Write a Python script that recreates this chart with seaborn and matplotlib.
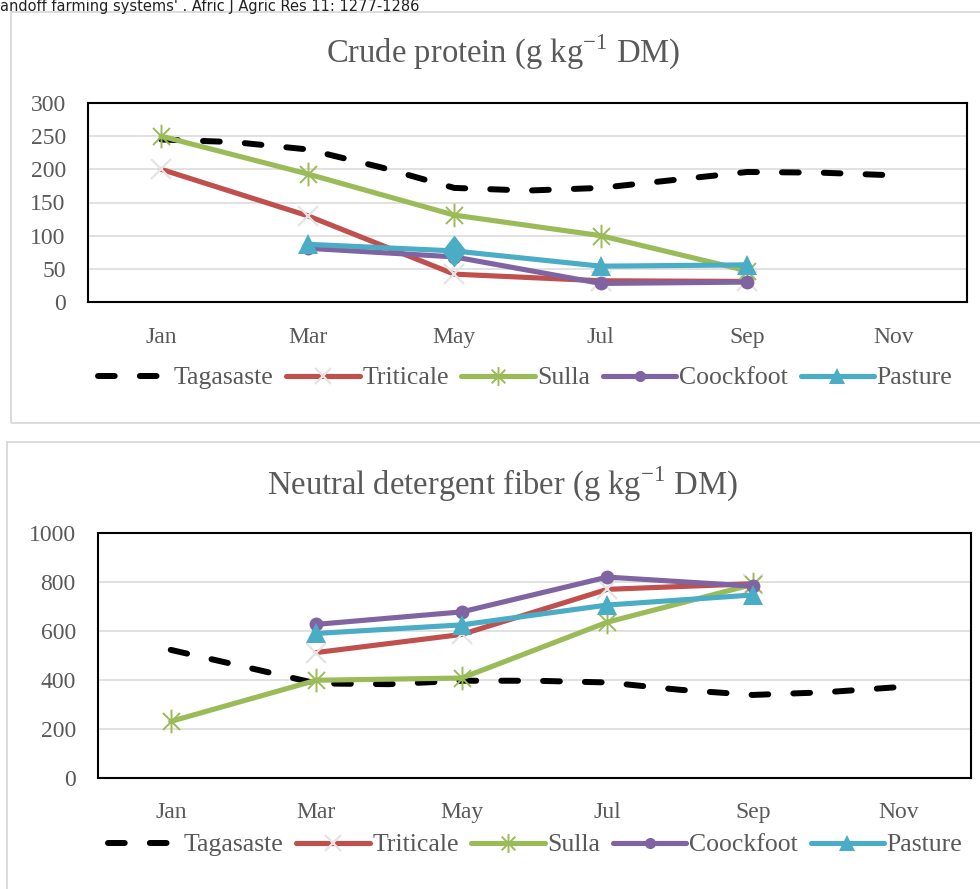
import matplotlib
matplotlib.use("Agg")
import matplotlib.pyplot as plt
from matplotlib.patches import Rectangle
from matplotlib.path import Path
import seaborn as sns

# ---- data -------------------------------------------------------------
months = ["Jan", "Feb", "Mar", "Apr", "May", "Jun", "Jul", "Aug", "Sep", "Oct", "Nov"]
tick_months = ["Jan", "Mar", "May", "Jul", "Sep", "Nov"]
series_names = ["Tagasaste", "Triticale", "Sulla", "Coockfoot", "Pasture"]

# Crude protein (g/kg DM)
cp_tagasaste = [245, 241, 230, 203, 172, 168, 172, 184, 196, 195, 191]
cp_triticale_months = ["Jan", "Mar", "May", "Jul", "Sep"]
cp_triticale = [200, 130, 42, 32, 31]
cp_sulla_months = ["Jan", "Mar", "May", "Jul", "Sep"]
cp_sulla = [250, 193, 131, 100, 47]
cp_coockfoot_months = ["Mar", "May", "Jul", "Sep"]
cp_coockfoot = [81, 68, 28, 30]
cp_pasture_months = ["Mar", "May", "Jul", "Sep"]
cp_pasture = [87, 77, 54, 56]

# Neutral detergent fiber (g/kg DM)
ndf_tagasaste = [523, 455, 386, 383, 397, 397, 390, 360, 339, 350, 371]
ndf_triticale_months = ["Mar", "May", "Jul", "Sep"]
ndf_triticale = [512, 586, 770, 793]
ndf_sulla_months = ["Jan", "Mar", "May", "Jul", "Sep"]
ndf_sulla = [231, 399, 408, 636, 790]
ndf_coockfoot_months = ["Mar", "May", "Jul", "Sep"]
ndf_coockfoot = [627, 678, 820, 783]
ndf_pasture_months = ["Mar", "May", "Jul", "Sep"]
ndf_pasture = [590, 625, 706, 747]

# ---- style ------------------------------------------------------------
sns.set_theme(style="white")
plt.rcParams["font.family"] = ["Liberation Serif", "DejaVu Serif"]

TEXT = "#595959"
GRID = "#d9d9d9"
colors = {
    "Tagasaste": "black",
    "Triticale": "#c0504d",
    "Sulla": "#9bbb59",
    "Coockfoot": "#8064a2",
    "Pasture": "#4bacc6",
}

star = Path(
    [(0, -1), (0, 1), (-0.72, -0.72), (0.72, 0.72), (-0.72, 0.72), (0.72, -0.72)],
    [Path.MOVETO, Path.LINETO, Path.MOVETO, Path.LINETO, Path.MOVETO, Path.LINETO],
)
diamond = Path(
    [(0, 1), (0.77, 0), (0, -1), (-0.77, 0), (0, 1)],
    [Path.MOVETO, Path.LINETO, Path.LINETO, Path.LINETO, Path.CLOSEPOLY],
)

LW = 3.7
LEG_KW = dict(ncol=5, loc="center", frameon=False, fontsize=18.5, labelcolor=TEXT,
              handlelength=2.85, handletextpad=0.1, columnspacing=0.5,
              borderpad=0, markerscale=0.8)


def idx(names):
    return [months.index(m) for m in names]


def draw_panel(ax, tag, tri, tri_m, sul, sul_m, coc, coc_m, pas, pas_m):
    sns.lineplot(x=list(range(len(months))), y=tag, ax=ax, color=colors["Tagasaste"],
                 lw=4.3, linestyle=(0, (2.8, 4.2)), dash_capstyle="round",
                 label="Tagasaste")
    sns.lineplot(x=idx(tri_m), y=tri, ax=ax, color=colors["Triticale"], lw=LW,
                 solid_capstyle="round", solid_joinstyle="round",
                 marker="x", ms=14, mew=1.6, mec="#e4e4e4", label="Triticale")
    sns.lineplot(x=idx(sul_m), y=sul, ax=ax, color=colors["Sulla"], lw=LW,
                 solid_capstyle="round", solid_joinstyle="round",
                 marker=star, ms=17, mew=1.4, mec=colors["Sulla"], mfc="none",
                 label="Sulla")
    sns.lineplot(x=idx(coc_m), y=coc, ax=ax, color=colors["Coockfoot"], lw=LW,
                 solid_capstyle="round", solid_joinstyle="round",
                 marker="o", ms=10, mew=0, mec=colors["Coockfoot"],
                 label="Coockfoot")
    sns.lineplot(x=idx(pas_m), y=pas, ax=ax, color=colors["Pasture"], lw=LW,
                 solid_capstyle="round", solid_joinstyle="round",
                 marker="^", ms=15, mew=0, mec=colors["Pasture"],
                 label="Pasture")
    ax.set_xlim(-1, 11)
    ax.set_xticks(idx(tick_months))
    ax.set_xticklabels(tick_months)
    ax.set_xlabel("")
    ax.set_ylabel("")
    ax.grid(axis="y", color=GRID, lw=1.1)
    ax.grid(axis="x", visible=False)
    ax.set_axisbelow(True)
    for sp in ax.spines.values():
        sp.set_visible(True)
        sp.set_color("black")
        sp.set_linewidth(1.5)
    ax.tick_params(length=0, labelsize=17, labelcolor=TEXT)


fig = plt.figure(figsize=(9.8, 8.89), dpi=100)
W, H = 980.0, 889.0


def fx(px):
    return px / W


def fy(py):
    return 1 - py / H


# chart frames
fig.add_artist(Rectangle((fx(11), fy(423)), fx(990 - 11), (423 - 12) / H,
                         transform=fig.transFigure, fill=False, ec=GRID, lw=1.3))
fig.add_artist(Rectangle((fx(7), fy(900)), fx(990 - 7), (900 - 442) / H,
                         transform=fig.transFigure, fill=False, ec=GRID, lw=1.3))

fig.text(0, fy(10.5), "andoff farming systems' . Afric J Agric Res 11: 1277-1286",
         family="DejaVu Sans", fontsize=10.5, color="#222222", va="baseline", ha="left")

# ---- crude protein -----------------------------------------------------
ax1 = fig.add_axes([fx(88), fy(302), fx(967 - 88), (302 - 103) / H])
draw_panel(ax1, cp_tagasaste, cp_triticale, cp_triticale_months, cp_sulla,
           cp_sulla_months, cp_coockfoot, cp_coockfoot_months, cp_pasture,
           cp_pasture_months)
ax1.set_ylim(0, 300)
ax1.set_yticks(range(0, 301, 50))
ax1.tick_params(axis="y", pad=16)
ax1.tick_params(axis="x", pad=18)

h1, l1 = ax1.get_legend_handles_labels()
ax1.legend(h1, l1, bbox_to_anchor=(fx(525), fy(378)),
           bbox_transform=fig.transFigure, **LEG_KW)
# the May point of the pasture series is shown as a diamond
ax1.lines[-1].set_markevery([0, 2, 3])
may_i = cp_pasture_months.index("May")
sns.scatterplot(x=[months.index("May")], y=[cp_pasture[may_i]], ax=ax1,
                marker=diamond, s=23 ** 2, color=colors["Pasture"],
                linewidth=0, zorder=5, legend=False)
ax1.set_xlabel("")
ax1.set_ylabel("")

fig.text(fx(503), fy(52), "Crude protein (g kg$^{\\mathregular{-1}}$ DM)",
         ha="center", va="center", fontsize=23.5, color=TEXT)

# ---- neutral detergent fiber -----------------------------------------
ax2 = fig.add_axes([fx(98), fy(778), fx(971 - 98), (778 - 533) / H])
draw_panel(ax2, ndf_tagasaste, ndf_triticale, ndf_triticale_months, ndf_sulla,
           ndf_sulla_months, ndf_coockfoot, ndf_coockfoot_months, ndf_pasture,
           ndf_pasture_months)
ax2.set_ylim(0, 1000)
ax2.set_yticks(range(0, 1001, 200))
ax2.tick_params(axis="y", pad=16)
ax2.tick_params(axis="x", pad=17)

h2, l2 = ax2.get_legend_handles_labels()
ax2.legend(h2, l2, bbox_to_anchor=(fx(535), fy(845)),
           bbox_transform=fig.transFigure, **LEG_KW)

fig.text(fx(503), fy(484), "Neutral detergent fiber (g kg$^{\\mathregular{-1}}$ DM)",
         ha="center", va="center", fontsize=23.5, color=TEXT)

fig.savefig("out.png", dpi=100, facecolor="white")
